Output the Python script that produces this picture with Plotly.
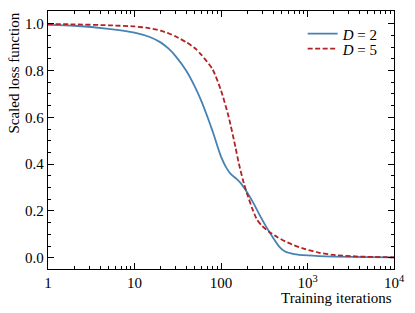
import plotly.graph_objects as go

# Training iterations and scaled loss values
iters_d2 = [1, 2, 5, 10, 15, 20, 25, 30, 40, 50, 60, 70, 80, 90, 100, 115, 130, 150, 170,
            200, 240, 280, 330, 400, 470, 550, 700, 1000, 2000, 5000, 10000]
loss_d2 = [0.995, 0.991, 0.978, 0.962, 0.943, 0.920, 0.892, 0.860, 0.797, 0.730, 0.665,
           0.600, 0.540, 0.482, 0.432, 0.385, 0.357, 0.338, 0.318, 0.280, 0.230, 0.182,
           0.135, 0.085, 0.048, 0.027, 0.016, 0.010, 0.005, 0.003, 0.002]

iters_d5 = [1, 2, 5, 10, 15, 20, 25, 30, 40, 50, 60, 80, 100, 123, 147, 161, 180, 200, 230,
            261, 300, 356, 450, 552, 700, 942, 1340, 2000, 4000, 10000]
loss_d5 = [0.998, 0.997, 0.993, 0.988, 0.980, 0.970, 0.958, 0.945, 0.920, 0.895, 0.865,
           0.805, 0.715, 0.600, 0.472, 0.402, 0.330, 0.274, 0.210, 0.162, 0.135, 0.112,
           0.088, 0.070, 0.053, 0.037, 0.022, 0.012, 0.005, 0.002]

x_tickvals = [1, 10, 100, 1000, 10000]
x_ticktext = ["1", "10", "100", "10<sup>3</sup>", "10<sup>4</sup>"]
y_tickvals = [0.0, 0.2, 0.4, 0.6, 0.8, 1.0]
y_ticktext = ["0.0", "0.2", "0.4", "0.6", "0.8", "1.0"]
x_minor = [m * 10 ** d for d in range(4) for m in range(2, 10)]

FONT = "Liberation Serif, Times New Roman, serif"

fig = go.Figure()
fig.add_trace(go.Scatter(x=iters_d2, y=loss_d2, mode="lines", name="<i>D</i> = 2",
                         legend="legend",
                         line=dict(color="#4682b4", width=1.8, shape="spline", smoothing=0.6)))
fig.add_trace(go.Scatter(x=iters_d5, y=loss_d5, mode="lines", name="<i>D</i> = 5",
                         legend="legend2",
                         line=dict(color="#b22222", width=1.8, dash="5px,2.5px",
                                   shape="spline", smoothing=0.6)))

axis_common = dict(showline=True, linecolor="black", linewidth=1.3, mirror="ticks",
                   ticks="inside", ticklen=6, tickwidth=1.1, tickcolor="black",
                   showgrid=False, zeroline=False,
                   tickfont=dict(family=FONT, size=15, color="black"))

fig.update_xaxes(type="log", range=[0, 4], tickmode="array", tickvals=x_tickvals,
                 ticktext=x_ticktext,
                 minor=dict(ticks="inside", ticklen=3, tickwidth=1, tickcolor="black",
                            tickmode="array", tickvals=x_minor, showgrid=False),
                 **axis_common)
fig.update_yaxes(range=[-0.048, 1.054], tickmode="array", tickvals=y_tickvals,
                 ticktext=y_ticktext,
                 minor=dict(ticks="inside", ticklen=3, tickwidth=1, tickcolor="black",
                            dtick=0.05, tick0=0, showgrid=False),
                 **axis_common)

legend_common = dict(xanchor="left", yanchor="middle", bgcolor="rgba(0,0,0,0)",
                     font=dict(family=FONT, size=15), itemwidth=30)

fig.update_layout(
    width=415, height=313,
    margin=dict(l=48, r=19, t=10, b=44),
    paper_bgcolor="white", plot_bgcolor="white",
    font=dict(family=FONT, size=15, color="black"),
    showlegend=True,
    legend=dict(x=0.736, y=0.911, **legend_common),
    legend2=dict(x=0.736, y=0.853, **legend_common),
    annotations=[
        dict(text="Scaled loss function", xref="paper", yref="paper",
             x=-0.072, y=1.0, xanchor="right", yanchor="top", textangle=-90,
             showarrow=False, font=dict(family=FONT, size=15)),
        dict(text="Training iterations", xref="paper", yref="paper",
             x=1.0, y=-0.075, xanchor="right", yanchor="top",
             showarrow=False, font=dict(family=FONT, size=15)),
    ],
)

fig.write_html("out.html", config={"displayModeBar": False},
               post_script="document.body.style.margin='0';document.body.style.overflow='hidden';")
